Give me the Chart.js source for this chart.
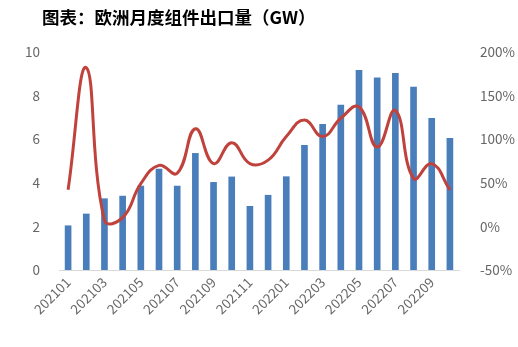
<!DOCTYPE html>
<html>
<head>
<meta charset="utf-8">
<script src="https://cdn.jsdelivr.net/npm/chart.js"></script>
<style>
  html, body { margin: 0; padding: 0; background: #fff; }
  #wrap { position: relative; width: 518px; height: 347px; }
  #title {
    position: absolute; left: 42px; top: 4px;
    font: bold 17.5px "Noto Sans CJK SC", "Noto Sans", sans-serif; color: #000;
  }
</style>
</head>
<body>
<div id="wrap">
  <div id="title">图表：欧洲月度组件出口量（GW）</div>
  <canvas id="chart"></canvas>
</div>
<script>
// 月份
const months = ['202101','202102','202103','202104','202105','202106','202107','202108','202109','202110','202111','202112',
                '202201','202202','202203','202204','202205','202206','202207','202208','202209','202210'];
// 出口量 (GW)
const exportGW = [2.03, 2.57, 3.27, 3.39, 3.85, 4.63, 3.85, 5.35, 4.02, 4.27, 2.92, 3.43,
                  4.28, 5.72, 6.68, 7.57, 9.16, 8.81, 9.02, 8.39, 6.96, 6.04];
// 同比 (%)
const yoyPct = [42, 182, 7, 10, 49, 70, 61, 112, 72, 96, 72, 76,
                103, 122, 103, 124, 137, 91, 133, 55, 72, 42];

const leftTicks = [0, 2, 4, 6, 8, 10];
const rightTicks = [-50, 0, 50, 100, 150, 200];

const BLUE = '#4a7ebb';
const RED = '#c0423c';
const GREY = '#666666';
const FONT = '"Noto Sans CJK SC", "Noto Sans", sans-serif';

new Chart(document.getElementById('chart'), {
  data: {
    labels: months,
    datasets: [
      {
        type: 'line',
        data: yoyPct,
        yAxisID: 'y1',
        borderColor: RED,
        borderWidth: 3,
        pointRadius: 0,
        tension: 0.45,
        fill: false,
        order: 0
      },
      {
        type: 'bar',
        data: exportGW,
        yAxisID: 'y',
        backgroundColor: BLUE,
        barThickness: 6,
        order: 1
      }
    ]
  },
  options: {
    responsive: true,
    maintainAspectRatio: false,
    animation: false,
    layout: { padding: { top: 52, bottom: 0, left: 0, right: 0 } },
    plugins: {
      legend: { display: false },
      tooltip: { enabled: false },
      title: { display: false }
    },
    scales: {
      x: {
        grid: { display: false, drawTicks: false },
        border: { display: true, color: '#d9d9d9', width: 1 },
        ticks: {
          autoSkip: false,
          maxRotation: 45,
          minRotation: 45,
          color: GREY,
          padding: 4,
          font: { family: FONT, size: 13.5 },
          callback: (v, i) => (i % 2 === 0 ? months[i] : '')
        },
        afterFit: (s) => { s.height = 77; }
      },
      y: {
        position: 'left',
        min: 0,
        max: 10,
        afterBuildTicks: (s) => { s.ticks = leftTicks.map(v => ({ value: v })); },
        grid: { display: false },
        border: { display: false },
        ticks: { color: GREY, padding: 11, font: { family: FONT, size: 13.5 } },
        afterFit: (s) => { s.width = 59; }
      },
      y1: {
        position: 'right',
        min: -50,
        max: 200,
        afterBuildTicks: (s) => { s.ticks = rightTicks.map(v => ({ value: v })); },
        grid: { display: false },
        border: { display: false },
        ticks: {
          color: GREY,
          padding: 13,
          font: { family: FONT, size: 13.5 },
          callback: (v) => v + '%'
        },
        afterFit: (s) => { s.width = 59; }
      }
    }
  }
});
</script>
</body>
</html>
